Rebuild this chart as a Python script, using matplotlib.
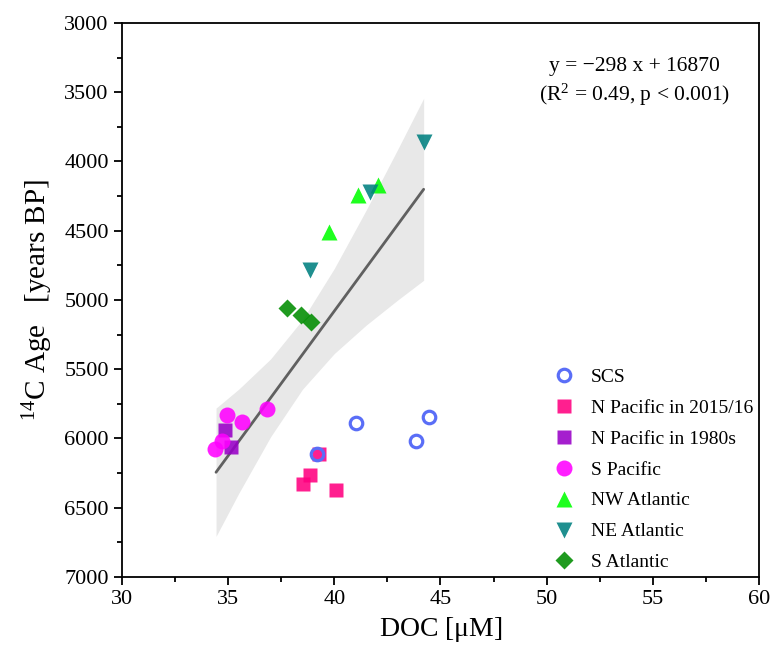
import matplotlib
matplotlib.use('Agg')
import matplotlib.pyplot as plt
from matplotlib.ticker import MultipleLocator

plt.rcParams['font.family'] = ['Liberation Serif', 'DejaVu Serif']
plt.rcParams['mathtext.fontset'] = 'custom'
plt.rcParams['mathtext.rm'] = 'Liberation Serif'
plt.rcParams['mathtext.it'] = 'Liberation Serif:italic'

# data
scs_x = [41.0, 43.85, 44.47, 39.17]
scs_y = [5890, 6018, 5847, 6112]
np15_x = [39.29, 38.86, 38.51, 40.07]
np15_y = [6112, 6263, 6331, 6372]
np80_x = [34.85, 35.12]
np80_y = [5939, 6063]
sp_x = [34.93, 35.67, 36.82, 34.69, 34.38]
sp_y = [5830, 5878, 5789, 6016, 6076]
nwa_x = [41.1, 42.08, 39.75]
nwa_y = [4242, 4170, 4507]
nea_x = [44.21, 41.7, 38.84]
nea_y = [3857, 4218, 4783]
sa_x = [37.76, 38.42, 38.89]
sa_y = [5060, 5108, 5157]

fit_x = [34.43, 44.21]
fit_y = [6244, 4201]
band_x = [34.43, 35.5, 37.0, 38.5, 40.0, 41.5, 43.0, 44.21]
band_lo = [5781, 5644, 5426, 5143, 4773, 4352, 3909, 3544]
band_hi = [6707, 6396, 5988, 5645, 5387, 5182, 4999, 4858]

fig = plt.figure(figsize=(7.72, 6.48), dpi=100)
ax = fig.add_axes([0.158, 0.1096, 0.825, 0.855])

ax.fill_between(band_x, band_lo, band_hi, color='#e8e8e8', lw=0, zorder=1)
ax.plot(fit_x, fit_y, color='#606060', lw=2.0, solid_capstyle='round', zorder=2)

a = 0.88
ax.plot(np15_x, np15_y, 's', ms=10, color='#ff0080', alpha=a, mec='none', label='N Pacific in 2015/16', zorder=3)
ax.plot(np80_x, np80_y, 's', ms=10, color='#9900c8', alpha=a, mec='none', label='N Pacific in 1980s', zorder=3)
ax.plot(sp_x, sp_y, 'o', ms=11.5, color='#ff00ff', alpha=a, mec='none', label='S Pacific', zorder=3)
ax.plot(nwa_x, nwa_y, '^', ms=12, color='#00ff00', alpha=a, mec='none', label='NW Atlantic', zorder=3)
ax.plot(nea_x, nea_y, 'v', ms=12, color='#008080', alpha=a, mec='none', label='NE Atlantic', zorder=3)
ax.plot(sa_x, sa_y, 'D', ms=9, color='#008c00', alpha=a, mec='none', label='S Atlantic', zorder=3)
ax.plot(scs_x, scs_y, 'o', ms=9, mfc='none', mec='#5a6ef7', mew=2.3, label='SCS', zorder=4)

handles, labels = ax.get_legend_handles_labels()
order = [6, 0, 1, 2, 3, 4, 5]
ax.legend([handles[i] for i in order], [labels[i] for i in order],
          loc='lower right', frameon=False, fontsize=14, labelspacing=0.68,
          handletextpad=0.37, borderpad=0.2, bbox_to_anchor=(1.0, 0.0),
          borderaxespad=0.1)

ax.text(0.805, 0.921, 'y = \u2212298 x + 16870', transform=ax.transAxes,
        ha='center', va='center', fontsize=15.5)
ax.text(0.805, 0.870, r'(R$^2$ = 0.49, p < 0.001)', transform=ax.transAxes,
        ha='center', va='center', fontsize=15.5)

ax.set_xlim(30, 60)
ax.set_ylim(7000, 3000)
ax.xaxis.set_major_locator(MultipleLocator(5))
ax.xaxis.set_minor_locator(MultipleLocator(2.5))
ax.yaxis.set_major_locator(MultipleLocator(500))
ax.yaxis.set_minor_locator(MultipleLocator(250))
ax.tick_params(which='both', direction='out', top=False, right=False, width=1.3, labelsize=16)
ax.tick_params(which='major', length=6)
ax.tick_params(which='minor', length=3.5)
for s in ax.spines.values():
    s.set_linewidth(1.3)

ax.set_xlabel(r'DOC [$\mathrm{\mu}$M]', fontsize=20, labelpad=4)
ax.set_ylabel(r'$^{14}$C Age   [years BP]', fontsize=21, labelpad=7)

fig.savefig('out.png', dpi=100)
